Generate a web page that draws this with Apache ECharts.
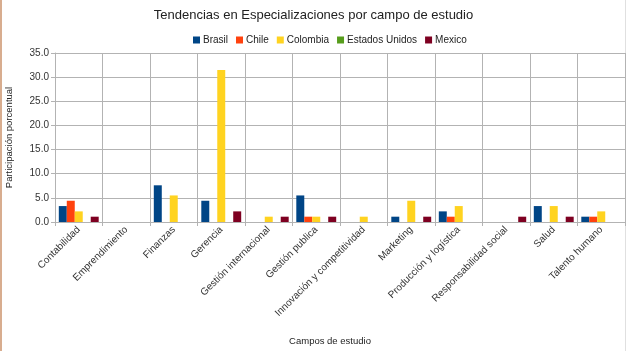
<!DOCTYPE html>
<html><head><meta charset="utf-8">
<script src="https://cdn.jsdelivr.net/npm/echarts@6/dist/echarts.min.js"></script>
<style>html,body{margin:0;padding:0;background:#fff}#c{width:627px;height:351px}</style>
</head><body><div id="c"></div>
<script>
const categories = ["Contabilidad","Emprendimiento","Finanzas","Gerencia","Gestión internacional","Gestión publica","Innovación y competitividad","Marketing","Producción y logística","Responsabilidad social","Salud","Talento humano"];
const brasil   = [3.3, 0, 7.6, 4.4, 0, 5.5, 0, 1.1, 2.2, 0, 3.3, 1.1];
const chile    = [4.4, 0, 0, 0, 0, 1.1, 0, 0, 1.1, 0, 0, 1.1];
const colombia = [2.2, 0, 5.5, 31.5, 1.1, 1.1, 1.1, 4.4, 3.3, 0, 3.3, 2.2];
const eeuu     = [0, 0, 0, 0, 0, 0, 0, 0, 0, 0, 0, 0];
const mexico   = [1.1, 0, 0, 2.2, 1.1, 1.1, 0, 1.1, 0, 1.1, 1.1, 0];
const seriesNames = ["Brasil","Chile","Colombia","Estados Unidos","Mexico"];
const yTicks = {min: 0, max: 35, interval: 5};

const colors = ["#004586","#ff420e","#ffd320","#579d1c","#7e0021"];
const font = "Liberation Sans";
const chart = echarts.init(document.getElementById('c'));
const dataArr = [brasil, chile, colombia, eeuu, mexico];
chart.setOption({
  animation: false,
  color: colors,
  textStyle: {fontFamily: font},
  title: {text: "Tendencias en Especializaciones por campo de estudio", left: 'center', top: 4,
    textStyle: {fontFamily: font, fontSize: 13, fontWeight: 'normal', color: '#222'}},
  legend: {top: 30, left: 188, itemWidth: 7, itemHeight: 7, itemGap: 8, icon: 'rect',
    textStyle: {fontFamily: font, fontSize: 10, color: '#222', padding: [0,0,0,-2]}},
  grid: {left: 55, right: 2, top: 53, bottom: 129, containLabel: false, outerBoundsMode: 'none'},
  xAxis: {type: 'category', data: categories,
    name: "Campos de estudio", nameLocation: 'middle', nameGap: 114,
    nameTextStyle: {fontFamily: font, fontSize: 9.5, color: '#222', padding: [0, 20, 0, 0]},
    axisLine: {lineStyle: {color: '#b3b3b3'}},
    axisTick: {show: true, length: 4, lineStyle: {color: '#b3b3b3'}},
    axisLabel: {rotate: 45, interval: 0, fontSize: 10, color: '#333', margin: 6},
    splitLine: {show: true, lineStyle: {color: '#b3b3b3'}}},
  yAxis: {type: 'value', min: yTicks.min, max: yTicks.max, interval: yTicks.interval,
    name: "Participación porcentual", nameLocation: 'middle', nameGap: 41,
    nameTextStyle: {fontFamily: font, fontSize: 9.5, color: '#222'},
    axisLine: {show: true, lineStyle: {color: '#b3b3b3'}},
    axisTick: {show: true, length: 4, lineStyle: {color: '#b3b3b3'}},
    axisLabel: {fontSize: 10, color: '#333', margin: 6, formatter: v => v.toFixed(1)},
    splitLine: {show: true, lineStyle: {color: '#b3b3b3'}}},
  series: seriesNames.map((n, i) => ({name: n, type: 'bar', data: dataArr[i],
    barGap: 0, barCategoryGap: '16%'})),
  graphic: [
    {type: 'rect', shape: {x: 0, y: 0, width: 2, height: 351}, style: {fill: '#d8ad8f'}, silent: true},
    {type: 'rect', shape: {x: 625, y: 0, width: 1, height: 351}, style: {fill: '#e0e0e0'}, silent: true}
  ]
});
</script></body></html>
